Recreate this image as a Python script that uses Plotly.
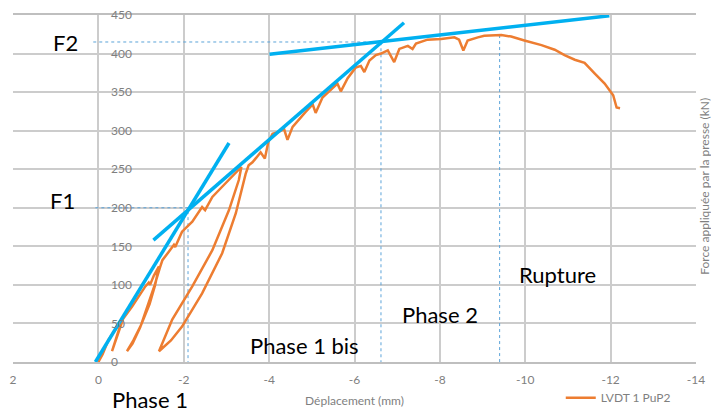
import plotly.graph_objects as go

# ---- data ----
deplacement = [0.0, -0.1, -0.24, -0.4, -0.57,
               -0.47, -0.38, -0.32,
               -0.40, -0.50, -0.58,
               -0.79, -1.0, -1.1, -1.18, -1.21, -1.3, -1.42,
               -1.33, -1.2, -1.0, -0.82, -0.67,
               -0.8, -0.98, -1.15, -1.32, -1.44,
               -1.5, -1.65, -1.77, -1.8, -1.96, -2.2, -2.43, -2.5, -2.67, -2.86, -3.06, -3.2, -3.35,
               -3.29, -3.06, -2.67, -2.2, -1.73, -1.55, -1.42,
               -1.7, -1.96, -2.43, -2.9, -3.22, -3.41, -3.45,
               -3.52, -3.61, -3.7, -3.8, -3.9, -3.98, -4.08, -4.2, -4.35, -4.43, -4.55, -4.74, -4.85,
               -5.02, -5.09, -5.25, -5.45, -5.60, -5.68, -5.84, -6.03, -6.15, -6.23, -6.35, -6.5, -6.62,
               -6.78, -6.93, -7.05, -7.25, -7.36, -7.44, -7.71, -8.03, -8.34, -8.45, -8.55, -8.65, -8.89,
               -9.04, -9.44, -9.67, -9.98, -10.38, -10.69, -10.92, -11.16, -11.39, -11.63, -11.86, -12.06,
               -12.14, -12.22]
force = [0, 10, 29, 42, 56,
         40, 25, 14,
         28, 44, 56,
         72, 90, 98, 103, 100, 112, 124,
         100, 75, 48, 28, 14,
         24, 45, 72, 100, 122,
         132, 143, 152, 149, 169, 182, 201, 197, 214, 225, 236, 245, 253,
         236, 197, 145, 98, 55, 30, 14,
         28, 46, 89, 141, 193, 238, 244,
         255, 259, 265, 272, 264, 285, 296, 298, 302, 288, 305, 318, 324,
         334, 323, 343, 354, 361, 351, 368, 382, 384, 376, 391, 398, 400,
         404, 389, 406, 410, 406, 413, 418, 419, 421, 418, 404, 417, 421,
         423, 424, 422, 417, 411, 405, 398, 392, 388, 374, 361, 346,
         330, 329]

tangent1_x = [0.07, -3.06]
tangent1_y = [0, 284]
tangent2_x = [-1.29, -7.16]
tangent2_y = [158, 440]
tangent3_x = [-4.01, -11.97]
tangent3_y = [399, 449]

f1_x = [0.07, -2.1, -2.1]
f1_y = [200, 200, 0]
f2_x = [0.12, -6.62, -6.62]
f2_y = [415, 415, 0]
rupt_x = [-9.4, -9.4]
rupt_y = [424, 0]

x_ticks = [2, 0, -2, -4, -6, -8, -10, -12, -14]
y_ticks = [0, 50, 100, 150, 200, 250, 300, 350, 400, 450]

labels = [("F2", 0.77, 414), ("F1", 0.84, 209),
          ("Phase 1 bis", -4.83, 22), ("Phase 2", -8.0, 61), ("Rupture", -10.76, 114)]

FONT = "Lato"
GRAY = "#7f7f7f"
BLUE = "#00B0F0"
ORANGE = "#ED7D31"
DOT = "#5BA3D9"

fig = go.Figure()

for xs, ys in [(f1_x, f1_y), (f2_x, f2_y), (rupt_x, rupt_y)]:
    fig.add_trace(go.Scatter(x=xs, y=ys, mode="lines", showlegend=False, hoverinfo="skip",
                             line=dict(color=DOT, width=1, dash="dot")))

fig.add_trace(go.Scatter(x=deplacement, y=force, mode="lines", name="LVDT 1 PuP2",
                         line=dict(color=ORANGE, width=2.5)))

for xs, ys in [(tangent1_x, tangent1_y), (tangent2_x, tangent2_y), (tangent3_x, tangent3_y)]:
    fig.add_trace(go.Scatter(x=xs, y=ys, mode="lines", showlegend=False, hoverinfo="skip",
                             line=dict(color=BLUE, width=3.5)))

for txt, x, y in labels:
    fig.add_annotation(x=x, y=y, text=txt, showarrow=False,
                       font=dict(family=FONT, size=22, color="#000000"))

# "Phase 1" sits below the plot area
fig.add_annotation(x=-1.22, yref="paper", y=(362.5 - 400.5) / 347.5, yanchor="middle",
                   text="Phase 1", showarrow=False,
                   font=dict(family=FONT, size=22, color="#000000"))

fig.add_annotation(xref="paper", yref="paper", x=(705 - 13) / 683, xanchor="center",
                   y=(362.5 - 187) / 347.5, yanchor="middle",
                   text="Force appliquée par la presse (kN)", textangle=-90,
                   showarrow=False, font=dict(family=FONT, size=12, color=GRAY))

fig.update_layout(
    width=711, height=408,
    margin=dict(l=13, r=15, t=15, b=45.5, autoexpand=False),
    paper_bgcolor="white", plot_bgcolor="white",
    font=dict(family=FONT, size=11, color=GRAY),
    showlegend=True,
    legend=dict(orientation="h", x=0.802, y=-0.061, xanchor="left", yanchor="top",
                font=dict(family=FONT, size=12, color=GRAY), bgcolor="rgba(0,0,0,0)"),
    xaxis=dict(range=[2, -14], tickvals=x_ticks, ticktext=[str(v) for v in x_ticks],
               showgrid=True, gridcolor="#cccccc", gridwidth=2, zeroline=False,
               showline=True, linecolor="#bfbfbf", linewidth=2, mirror=True,
               ticks="", automargin=False, ticklabelstandoff=6,
               tickfont=dict(family=FONT, size=12, color=GRAY),
               title=dict(text="Déplacement (mm)", standoff=10,
                          font=dict(family=FONT, size=12, color=GRAY))),
    yaxis=dict(range=[0, 450], tickvals=y_ticks, showgrid=True, gridcolor="#cccccc", gridwidth=2,
               zeroline=False, showline=False, anchor="free", position=(98 - 13) / 683,
               side="right", ticks="", ticklabelstandoff=12, automargin=False,
               tickfont=dict(family=FONT, size=12, color=GRAY)),
)

fig.write_html("out.html", config={"displayModeBar": False},
               post_script="document.body.style.margin='0';document.body.style.overflow='hidden';")
